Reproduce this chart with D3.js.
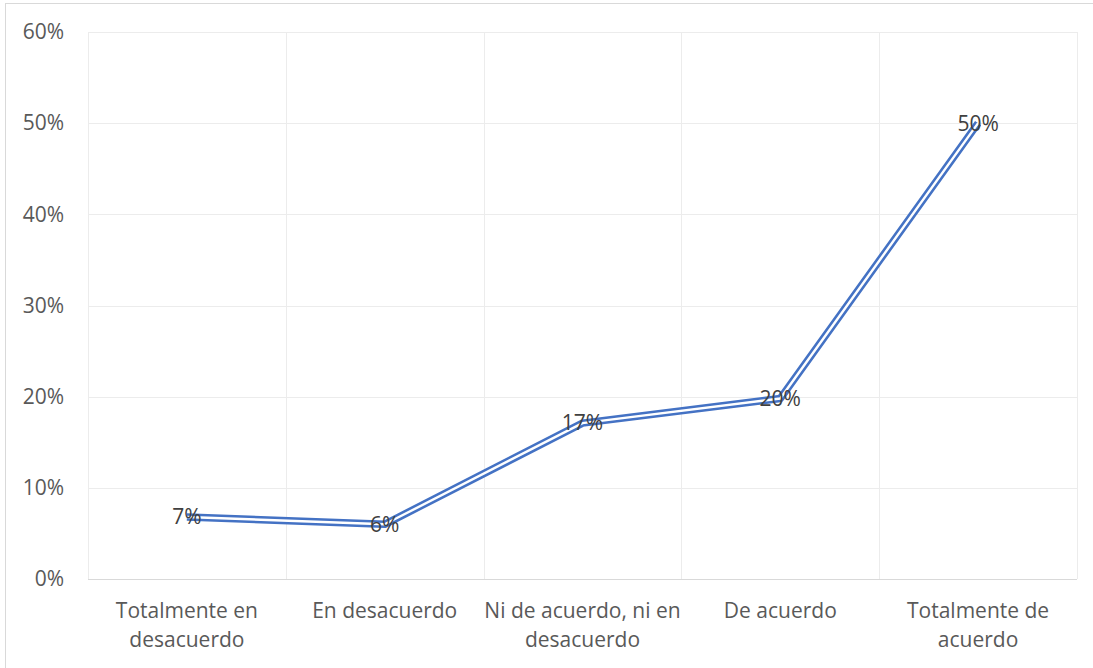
<!DOCTYPE html>
<html>
<head>
<meta charset="utf-8">
<script src="https://cdn.jsdelivr.net/npm/d3@7"></script>
<style>
  html, body { margin: 0; padding: 0; background: #fff; }
  svg { display: block; }
</style>
</head>
<body>
<svg id="chart" width="1093" height="668"></svg>
<script>
// Survey responses by agreement level
const categories = [
  ["Totalmente en", "desacuerdo"],
  ["En desacuerdo"],
  ["Ni de acuerdo, ni en", "desacuerdo"],
  ["De acuerdo"],
  ["Totalmente de", "acuerdo"]
];
const values = [0.068, 0.060, 0.171, 0.198, 0.50];
const yTicks = [0, 0.1, 0.2, 0.3, 0.4, 0.5, 0.6];

const svg = d3.select("#chart");
const font = "'Open Sans', 'Segoe UI', sans-serif";
const fs = 21;
const margin = { left: 88, right: 16, top: 32, bottom: 89 };
const W = 1093, H = 668;

// outer chart border
svg.append("rect")
  .attr("x", 5.5).attr("y", 3.5)
  .attr("width", W + 10).attr("height", H + 10)
  .attr("fill", "#fff").attr("stroke", "#d9d9d9").attr("stroke-width", 1);

const x = d3.scaleBand()
  .domain(d3.range(categories.length))
  .range([margin.left, W - margin.right])
  .padding(0);
const y = d3.scaleLinear()
  .domain([0, 0.6])
  .range([H - margin.bottom, margin.top]);

const g = svg.append("g");

// horizontal gridlines
g.selectAll("line.hgrid").data(yTicks).join("line")
  .attr("class", "hgrid")
  .attr("x1", margin.left).attr("x2", W - margin.right)
  .attr("y1", d => Math.round(y(d)) + 0.5).attr("y2", d => Math.round(y(d)) + 0.5)
  .attr("stroke", d => d === 0 ? "#d9d9d9" : "#ececec").attr("stroke-width", 1);

// vertical gridlines at category boundaries
const bounds = d3.range(categories.length + 1).map(i => margin.left + i * x.bandwidth());
g.selectAll("line.vgrid").data(bounds).join("line")
  .attr("class", "vgrid")
  .attr("x1", d => Math.round(d) + 0.5).attr("x2", d => Math.round(d) + 0.5)
  .attr("y1", margin.top).attr("y2", H - margin.bottom)
  .attr("stroke", "#ececec").attr("stroke-width", 1);

// y axis labels
const yAxis = d3.axisLeft(y).tickValues(yTicks).tickFormat(d3.format(".0%")).tickSize(0).tickPadding(24);
const ya = svg.append("g").attr("transform", `translate(${margin.left},0)`).call(yAxis);
ya.select(".domain").remove();
ya.selectAll("text")
  .attr("font-family", font).attr("font-size", fs).attr("fill", "#595959");

// x axis labels (wrapped on two lines)
const xa = svg.append("g");
categories.forEach((lines, i) => {
  const t = xa.append("text")
    .attr("x", x(i) + x.bandwidth() / 2)
    .attr("y", 618)
    .attr("text-anchor", "middle")
    .attr("font-family", font).attr("font-size", fs).attr("fill", "#595959");
  lines.forEach((ln, j) => {
    t.append("tspan").attr("x", x(i) + x.bandwidth() / 2).attr("dy", j === 0 ? 0 : 29).text(ln);
  });
});

// compound (double) line
const line = d3.line()
  .x((d, i) => x(i) + x.bandwidth() / 2)
  .y(d => y(d));
svg.append("path").datum(values)
  .attr("d", line)
  .attr("fill", "none").attr("stroke", "#4472C4").attr("stroke-width", 7.5)
  .attr("stroke-linejoin", "round").attr("stroke-linecap", "butt");
svg.append("path").datum(values)
  .attr("d", line)
  .attr("fill", "none").attr("stroke", "#fff").attr("stroke-width", 2.4)
  .attr("stroke-linejoin", "round").attr("stroke-linecap", "butt");

// data labels centred on points
svg.append("g").selectAll("text").data(values).join("text")
  .attr("x", (d, i) => x(i) + x.bandwidth() / 2)
  .attr("y", d => y(d))
  .attr("dy", "0.35em")
  .attr("text-anchor", "middle")
  .attr("font-family", font).attr("font-size", fs).attr("fill", "#404040")
  .text(d => d3.format(".0%")(d));
</script>
</body>
</html>
